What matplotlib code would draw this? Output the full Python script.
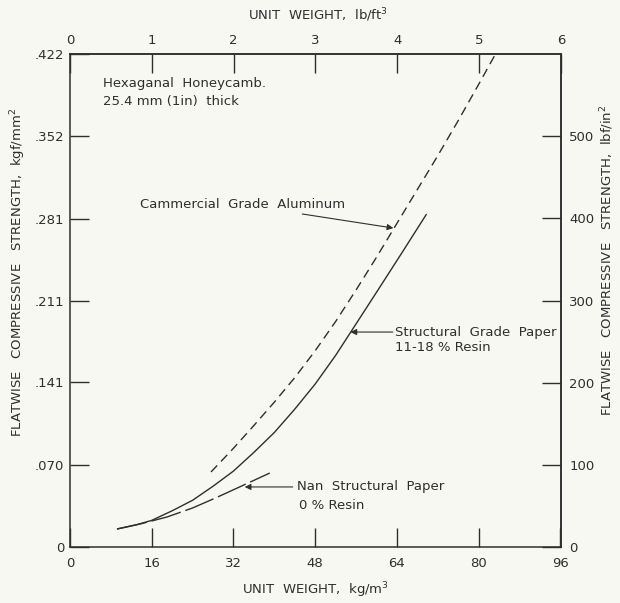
import matplotlib
matplotlib.use("Agg")
import matplotlib.pyplot as plt

# ---- data ----
# unit weight in kg/m^3, strength in kgf/mm^2
struct_x = [9.2, 13.0, 16.0, 20.0, 24.0, 28.0, 32.0, 36.0, 40.0, 44.0, 48.0, 52.0, 56.0, 60.0, 65.0, 69.8]
struct_y = [0.0154, 0.0190, 0.0228, 0.0310, 0.0400, 0.0520, 0.0650, 0.0810, 0.0980, 0.1180,
            0.1395, 0.1640, 0.1910, 0.2180, 0.2520, 0.2850]

alum_x = [27.6, 32.0, 36.0, 40.0, 44.0, 48.0, 52.0, 56.0, 60.0, 64.0, 68.0, 72.0, 76.0, 80.0, 83.3]
alum_y = [0.0642, 0.0845, 0.1040, 0.1240, 0.1450, 0.1680, 0.1930, 0.2200, 0.2480, 0.2770,
          0.3060, 0.3350, 0.3650, 0.3960, 0.4220]

nonstruct_x = [9.2, 14.0, 19.0, 24.0, 28.5, 33.2, 39.1]
nonstruct_y = [0.0154, 0.0200, 0.0257, 0.0334, 0.0420, 0.0514, 0.0633]

bottom_ticks = [0, 16, 32, 48, 64, 80, 96]
top_ticks = [0, 1, 2, 3, 4, 5, 6]
left_ticks = [0, 0.070, 0.141, 0.211, 0.281, 0.352, 0.422]
left_labels = ["0", ".070", ".141", ".211", ".281", ".352", ".422"]
right_ticks = [0, 100, 200, 300, 400, 500]

KG_PER_LB_FT3 = 16.0185      # kg/m^3 per lb/ft^3
PSI_PER_KGF_MM2 = 1422.33    # lbf/in^2 per kgf/mm^2

ink = "#2e2e2e"
bg = "#f8f8f3"
plt.rcParams["font.family"] = ["DejaVu Sans"]

fig = plt.figure(figsize=(6.20, 6.03), dpi=100, facecolor=bg)
ax = fig.add_axes([70/620, 56/603, 491/620, 493/603])
ax.set_facecolor(bg)

ax.plot(struct_x, struct_y, color=ink, lw=1.0, solid_capstyle="butt")
ax.plot(alum_x, alum_y, color=ink, lw=1.0, dashes=(6.5, 4))
ax.plot(nonstruct_x, nonstruct_y, color=ink, lw=1.0, dashes=(22, 3.5))

ax.set_xlim(0, 96.12)
ax.set_ylim(0, 0.422)

tick_kw = dict(direction="in", length=14, width=1.0, color=ink, labelcolor=ink, labelsize=9.5)
ax.set_xticks(bottom_ticks)
ax.set_yticks(left_ticks)
ax.set_yticklabels(left_labels)
ax.tick_params(axis="x", pad=7, **tick_kw)
ax.tick_params(axis="y", pad=4, **tick_kw)
for s in ax.spines.values():
    s.set_color(ink)
    s.set_linewidth(1.1)

secx = ax.secondary_xaxis("top", functions=(lambda k: k / KG_PER_LB_FT3,
                                            lambda l: l * KG_PER_LB_FT3))
secx.set_xticks(top_ticks)
secx.tick_params(axis="x", pad=5, **tick_kw)

secy = ax.secondary_yaxis("right", functions=(lambda y: y * PSI_PER_KGF_MM2,
                                              lambda p: p / PSI_PER_KGF_MM2))
secy.set_yticks(right_ticks)
secy.tick_params(axis="y", pad=6, **tick_kw)
for sa in (secx, secy):
    for s in sa.spines.values():
        s.set_color(ink)
        s.set_linewidth(1.1)

fs = 9.5
lab_fs = 9.5
fig.text(316/620, 1 - 590/603, "UNIT  WEIGHT,  kg/m$^3$", ha="center", va="center",
         fontsize=lab_fs, color=ink)
fig.text(318/620, 1 - 15/603, "UNIT  WEIGHT,  lb/ft$^3$", ha="center", va="center",
         fontsize=lab_fs, color=ink)
fig.text(18/620, 1 - 272/603, "FLATWISE   COMPRESSIVE   STRENGTH,  kgf/mm$^2$", rotation=90,
         ha="center", va="center", fontsize=lab_fs, color=ink)
fig.text(607/620, 1 - 260/603, "FLATWISE   COMPRESSIVE   STRENGTH,  lbf/in$^2$", rotation=90,
         ha="center", va="center", fontsize=lab_fs, color=ink)

ax.text(6.5, 0.397, "Hexaganal  Honeycamb.", fontsize=fs, color=ink, ha="left", va="center")
ax.text(6.5, 0.381, "25.4 mm (1in)  thick", fontsize=fs, color=ink, ha="left", va="center")

arrow = dict(arrowstyle="-|>", color=ink, lw=0.8, mutation_scale=9, shrinkA=0, shrinkB=0)
ax.annotate("Cammercial  Grade  Aluminum", xy=(63.3, 0.273), xytext=(53.8, 0.293),
            fontsize=fs, color=ink, ha="right", va="center", arrowprops=arrow)

ax.annotate("", xy=(54.9, 0.184), xytext=(63.2, 0.184), arrowprops=arrow)
ax.text(63.6, 0.184, "Structural  Grade  Paper", fontsize=fs, color=ink, ha="left", va="center")
ax.text(63.6, 0.171, "11-18 % Resin", fontsize=fs, color=ink, ha="left", va="center")

ax.annotate("", xy=(34.2, 0.0514), xytext=(43.6, 0.0514), arrowprops=arrow)
ax.text(44.4, 0.0514, "Nan  Structural  Paper", fontsize=fs, color=ink, ha="left", va="center")
ax.text(44.8, 0.0351, "0 % Resin", fontsize=fs, color=ink, ha="left", va="center")

fig.savefig("out.png", dpi=100, facecolor=bg)
